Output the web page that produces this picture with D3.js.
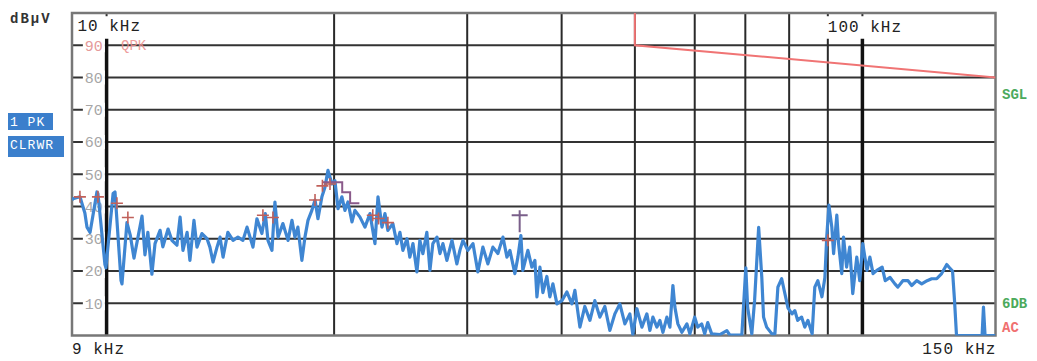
<!DOCTYPE html>
<html>
<head>
<meta charset="utf-8">
<script src="https://cdn.jsdelivr.net/npm/d3@7"></script>
<style>
  body { margin: 0; background: #fff; }
  text { font-family: "Liberation Mono", "DejaVu Sans Mono", monospace; }
</style>
</head>
<body>
<svg id="chart" width="1037" height="361"></svg>
<script>
// level grid (dBµV) and frequency grid (kHz)
const levelTicks = [10, 20, 30, 40, 50, 60, 70, 80, 90];
const freqGrid = [10, 20, 30, 40, 50, 60, 70, 80, 90, 100];
const majorFreqs = [10, 100];
const shortFreqs = [10, 90, 100];   // lines that stop under the top labels

// limit line (QPK), kHz / dBµV
const limitLine = [[50, 110], [50, 90], [150, 80]];

// peak trace, kHz / dBµV
const trace = [
  [9.00, 42], [9.03, 42.4], [9.22, 43], [9.36, 38], [9.42, 33.6], [9.51, 32], [9.71, 44.5], [9.74, 44],
  [9.95, 22], [9.98, 21], [10.20, 44], [10.26, 44.5], [10.45, 17], [10.48, 16], [10.64, 35], [10.75, 31],
  [10.87, 24], [11.14, 37], [11.24, 25], [11.34, 32], [11.48, 19], [11.59, 28.5], [11.77, 32.6], [11.87, 27.5],
  [12.06, 33], [12.20, 29.5], [12.39, 28], [12.51, 36.7], [12.62, 26.4], [12.78, 32], [12.89, 23.3], [13.05, 35.7],
  [13.17, 27.4], [13.37, 31.6], [13.58, 30], [13.70, 27.4], [13.83, 22.8], [14.00, 27.4], [14.13, 30.5], [14.26, 24.3],
  [14.47, 32], [14.70, 29.5], [14.92, 30.5], [15.15, 29.5], [15.34, 33.6], [15.48, 30.5], [15.62, 27.4], [15.81, 36.2],
  [16.05, 31.6], [16.22, 37.8], [16.35, 29.5], [16.55, 26.4], [16.70, 41.4], [16.86, 30.5], [17.11, 34.7], [17.38, 29.5],
  [17.59, 35.7], [17.75, 30.5], [17.91, 33.6], [18.13, 23.3], [18.30, 30.5], [18.47, 35.7], [18.69, 38.8], [18.87, 42],
  [19.04, 36.2], [19.27, 43], [19.45, 46], [19.63, 51.2], [19.87, 47], [20.05, 48], [20.24, 39.3], [20.48, 43],
  [20.67, 38.8], [20.86, 41.4], [21.12, 35.2], [21.31, 38.8], [21.64, 36.7], [21.97, 33.6], [22.31, 37.8], [22.65, 28.5],
  [22.86, 43], [23.14, 33.6], [23.35, 37.8], [23.56, 32.6], [23.92, 34.7], [24.22, 28.5], [24.44, 32], [24.66, 26.4],
  [24.97, 30], [25.19, 24.3], [25.43, 28.5], [25.74, 19.7], [25.97, 29.5], [26.21, 25.4], [26.53, 32], [26.78, 20.2],
  [27.02, 28.5], [27.36, 30.5], [27.61, 25.4], [27.86, 28.5], [28.20, 23.3], [28.64, 29.5], [29.07, 22.2], [29.34, 26.4],
  [29.61, 29.5], [30.06, 26.4], [30.53, 28.5], [30.99, 19.7], [31.47, 27.4], [31.95, 22.2], [32.44, 27.4], [32.94, 25.4],
  [33.45, 30.5], [33.86, 24.3], [34.17, 26.4], [34.69, 19.2], [35.01, 24.3], [35.33, 31], [35.54, 20.2], [36.09, 26.4],
  [36.53, 21.2], [36.87, 23.3], [37.10, 12], [37.44, 21.2], [37.78, 13.3], [38.24, 18.3], [38.59, 12], [38.95, 16],
  [39.43, 9.8], [40.03, 10.8], [40.64, 13.5], [41.27, 9.8], [41.65, 14], [42.29, 2.6], [42.93, 9], [43.60, 4.7],
  [44.26, 10.8], [44.94, 5.7], [45.63, 9], [46.33, 1.6], [47.04, 6.7], [47.76, 9.8], [48.50, 3.6], [49.24, 6.7],
  [49.69, 0.3], [50.31, 8.3], [51.08, 2.6], [51.86, 6.7], [52.34, 1.6], [52.82, 5.7], [53.47, 2.6], [53.96, 4.7],
  [54.46, 1], [55.12, 5.7], [55.63, 2.6], [56.14, 15.5], [56.48, 8.8], [57.00, 3.6], [57.70, 1], [58.59, 3.6],
  [59.12, 0.5], [60.0, 5.7], [60.55, 2.6], [61.29, 3.6], [61.85, 0.5], [62.42, 4], [63.18, 0.5], [64.77, 0.3],
  [66.17, 1.5], [66.78, 0.1], [69.26, 0.1], [70.1, 21], [70.5, 8.6], [71.4, 0.5], [72.0, 10.8], [72.9, 33.5],
  [73.6, 18], [74.0, 5.7], [74.7, 2.6], [75.9, 0.5], [76.6, 0.5], [77.3, 15], [78.2, 17.6], [79.0, 12.8],
  [79.7, 8.6], [80.7, 6.7], [81.4, 7.7], [82.1, 4.7], [83.1, 5.7], [83.9, 2.6], [84.7, 4.7], [85.8, 0.5],
  [86.5, 15], [87.3, 17], [88.4, 12], [89.2, 18], [89.7, 30.5], [90.3, 40.4], [91.1, 33.6], [91.6, 25.4],
  [92.5, 37.3], [93.0, 28.5], [93.9, 19.2], [94.4, 30.5], [95.3, 21.2], [96.2, 27.4], [97.1, 13], [98.3, 24.3],
  [99.2, 17], [100.1, 28.5], [101.4, 20.2], [102.3, 24.3], [103.3, 19.2], [104.5, 20.2], [106.2, 21.2], [107.2, 17],
  [108.8, 18], [110.4, 16], [111.4, 15], [113.1, 17], [114.9, 17], [116.2, 15.5], [118.0, 17], [119.8, 16],
  [121.8, 17], [123.5, 17.6], [125.4, 17.6], [127.3, 19.2], [129.3, 22], [130.4, 21], [131.6, 20], [132.4, 10.8],
  [133.2, 0], [144.0, 0], [144.6, 8.8], [145.3, 0], [150, 0]
];

// final measurement markers, kHz / dBµV
const qpkMarks = [
  [9.22, 43], [9.74, 43], [10.32, 41], [10.67, 36.6], [16.1, 37.3], [16.6, 36.6],
  [18.87, 42], [19.3, 46.4], [19.75, 47], [22.5, 37.3], [22.9, 36.3], [23.56, 35], [90, 29.5]
];
const avgStep = [[19.3, 47.5], [20.5, 47.5], [20.5, 44.4], [21.0, 44.4], [21.0, 41], [21.6, 41]];
const avgMark = { f: 35.2, level: 37.3, base: 32 };

const svg = d3.select('#chart');

const x = d3.scaleLog().domain([9, 150]).range([72, 995.5]);
const y = d3.scaleLinear().domain([0, 100]).range([335.5, 13]);

svg.append('clipPath').attr('id', 'plotClip')
  .append('rect')
  .attr('x', x(9)).attr('y', y(100))
  .attr('width', x(150) - x(9)).attr('height', y(0) - y(100));

// horizontal grid
svg.append('g').selectAll('line')
  .data(levelTicks)
  .enter().append('line')
  .attr('x1', x(9)).attr('x2', x(150))
  .attr('y1', d => y(d)).attr('y2', d => y(d))
  .attr('stroke', '#333').attr('stroke-width', 2);

// vertical grid
svg.append('g').selectAll('line')
  .data(freqGrid)
  .enter().append('line')
  .attr('x1', d => x(d)).attr('x2', d => x(d))
  .attr('y1', d => shortFreqs.includes(d) ? y(92) : y(100))
  .attr('y2', y(0))
  .attr('stroke', d => majorFreqs.includes(d) ? '#111' : '#2a2a2a')
  .attr('stroke-width', d => majorFreqs.includes(d) ? 3.5 : 2);

// small tick marks on the top border
svg.append('g').selectAll('line')
  .data(shortFreqs)
  .enter().append('line')
  .attr('x1', d => x(d)).attr('x2', d => x(d))
  .attr('y1', y(100)).attr('y2', y(99))
  .attr('stroke', '#333').attr('stroke-width', 2);

// frame
svg.append('rect')
  .attr('x', x(9)).attr('y', y(100))
  .attr('width', x(150) - x(9)).attr('height', y(0) - y(100))
  .attr('fill', 'none').attr('stroke', '#777').attr('stroke-width', 2.5);

// level labels sitting on the grid lines
const lab = svg.append('g').selectAll('g')
  .data(levelTicks)
  .enter().append('g')
  .attr('transform', d => `translate(${x(9.62)},${y(d)})`);
lab.append('rect')
  .attr('x', -11).attr('y', -7).attr('width', 22).attr('height', 14)
  .attr('fill', '#fff');
lab.append('text')
  .attr('text-anchor', 'middle').attr('dy', '0.36em')
  .attr('font-size', 15)
  .attr('fill', d => d === 90 ? '#e59a9a' : '#a6a6a6')
  .text(d => d);

svg.append('text')
  .attr('x', x(10.45)).attr('y', y(90)).attr('dy', '0.36em')
  .attr('font-size', 14).attr('fill', '#ec8c8c').attr('opacity', 0.85)
  .text('QPK');

const plotArea = svg.append('g').attr('clip-path', 'url(#plotClip)');

// limit line
plotArea.append('path')
  .datum(limitLine)
  .attr('d', d3.line().x(d => x(d[0])).y(d => y(d[1])))
  .attr('fill', 'none').attr('stroke', '#f07474').attr('stroke-width', 2);

// trace
plotArea.append('path')
  .datum(trace)
  .attr('d', d3.line().x(d => x(d[0])).y(d => y(d[1])))
  .attr('fill', 'none').attr('stroke', '#3f86d2')
  .attr('stroke-width', 3.2).attr('stroke-linejoin', 'round');

// average step line
plotArea.append('path')
  .datum(avgStep)
  .attr('d', d3.line().x(d => x(d[0])).y(d => y(d[1])))
  .attr('fill', 'none').attr('stroke', '#8a5a8a').attr('stroke-width', 2);

// QPK crosses
const cross = plotArea.append('g').selectAll('g')
  .data(qpkMarks)
  .enter().append('g')
  .attr('transform', d => `translate(${x(d[0])},${y(d[1])})`);
cross.append('line').attr('x1', -6).attr('x2', 6)
  .attr('stroke', '#c0605a').attr('stroke-width', 1.6);
cross.append('line').attr('y1', -6).attr('y2', 6)
  .attr('stroke', '#c0605a').attr('stroke-width', 1.6);

// average marker
const am = plotArea.append('g');
am.append('line')
  .attr('x1', x(avgMark.f) - 8).attr('x2', x(avgMark.f) + 8)
  .attr('y1', y(avgMark.level)).attr('y2', y(avgMark.level))
  .attr('stroke', '#7a5f8a').attr('stroke-width', 2);
am.append('line')
  .attr('x1', x(avgMark.f)).attr('x2', x(avgMark.f))
  .attr('y1', y(avgMark.level) - 5).attr('y2', y(avgMark.base))
  .attr('stroke', '#7a5f8a').attr('stroke-width', 2);

// frequency labels
const freqLabels = [
  { t: '10 kHz', f: 9.15, yv: 94.4 },
  { t: '100 kHz', f: 90, yv: 94.2 },
  { t: '9 kHz', f: 9, yv: -5.7 },
  { t: '150 kHz', f: 120, yv: -5.7 }
];
svg.append('g').selectAll('text')
  .data(freqLabels)
  .enter().append('text')
  .attr('x', d => x(d.f)).attr('y', d => y(d.yv))
  .attr('font-size', 16).attr('letter-spacing', 1)
  .attr('fill', '#222')
  .text(d => d.t);

// unit
svg.append('text')
  .attr('x', 10).attr('y', 23)
  .attr('font-size', 14).attr('font-weight', 'bold').attr('letter-spacing', 2)
  .attr('fill', '#333')
  .text('dBµV');

// trace info boxes
const boxes = [
  { t: '1 PK', top: 113, w: 45, h: 17 },
  { t: 'CLRWR', top: 136, w: 56, h: 21 }
];
const bx = svg.append('g').selectAll('g')
  .data(boxes)
  .enter().append('g')
  .attr('transform', d => `translate(8,${d.top})`);
bx.append('rect')
  .attr('width', d => d.w).attr('height', d => d.h)
  .attr('fill', '#3b7fcc');
bx.append('text')
  .attr('x', 2).attr('y', 13)
  .attr('font-size', 13).attr('letter-spacing', 1)
  .attr('fill', '#fff')
  .text(d => d.t);

// right side status labels
const status = [
  { t: 'SGL', v: 75, c: '#4caa5c' },
  { t: '6DB', v: 10, c: '#4caa5c' },
  { t: 'AC', v: 2.5, c: '#f07070' }
];
svg.append('g').selectAll('text')
  .data(status)
  .enter().append('text')
  .attr('x', 1002).attr('y', d => y(d.v))
  .attr('dy', '0.36em')
  .attr('font-size', 14).attr('font-weight', 'bold')
  .attr('fill', d => d.c)
  .text(d => d.t);
</script>
</body>
</html>
